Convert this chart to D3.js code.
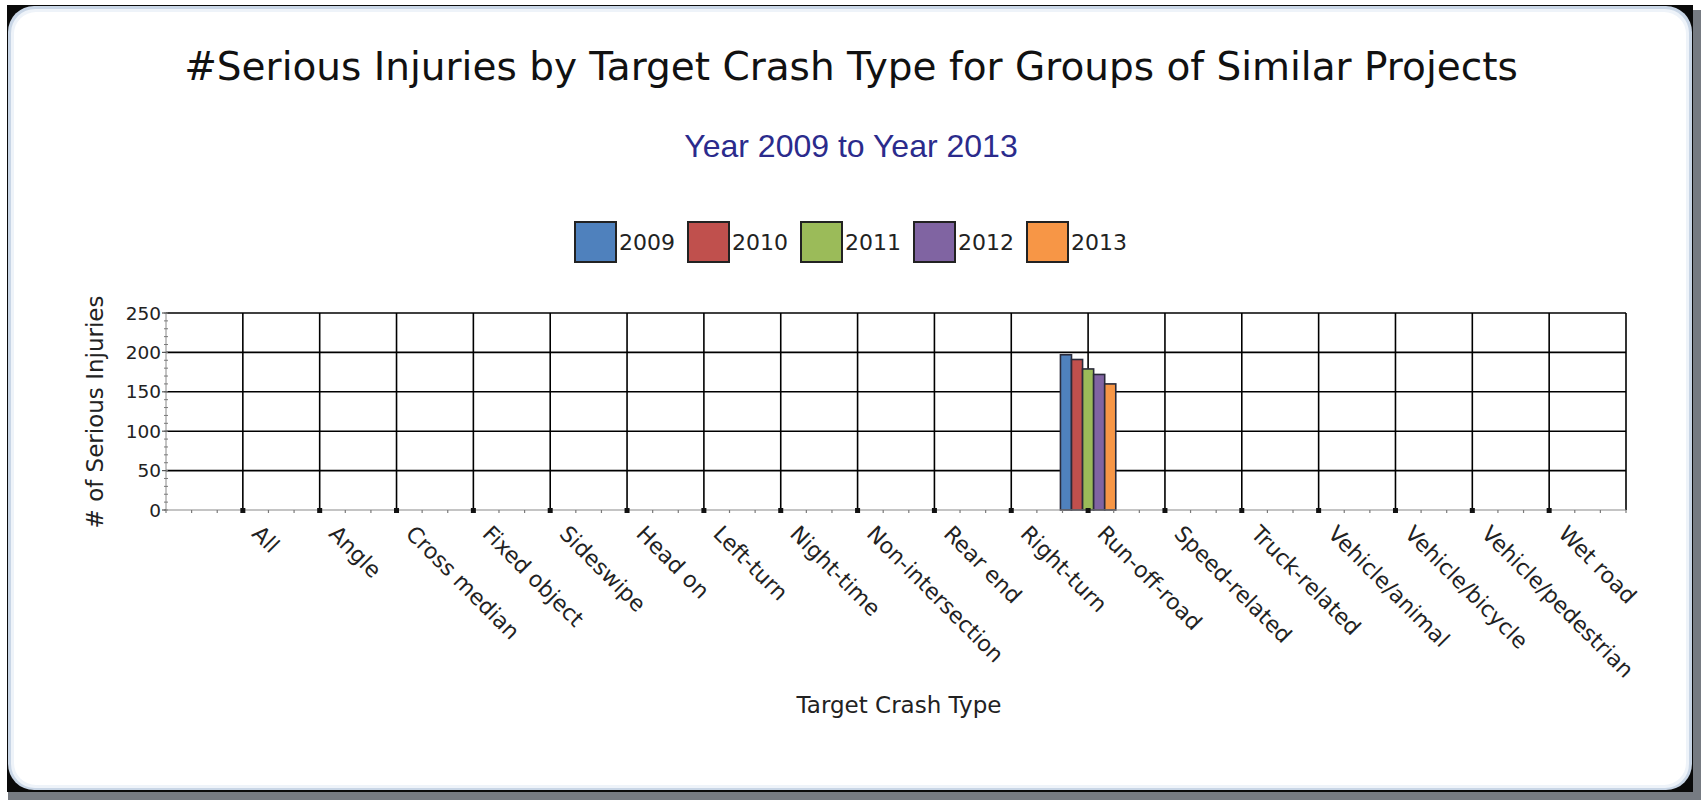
<!DOCTYPE html>
<html>
<head>
<meta charset="utf-8">
<script src="https://cdn.jsdelivr.net/npm/d3@7"></script>
<style>
  html, body { margin: 0; padding: 0; background: #ffffff; }
  svg { display: block; }
</style>
</head>
<body>
<svg id="chart" width="1701" height="800"></svg>
<script>
// Crash-type categories along the x axis
const categories = ["All", "Angle", "Cross median", "Fixed object", "Sideswipe", "Head on",
  "Left-turn", "Night-time", "Non-intersection", "Rear end", "Right-turn", "Run-off-road",
  "Speed-related", "Truck-related", "Vehicle/animal", "Vehicle/bicycle", "Vehicle/pedestrian", "Wet road"];

// Serious injuries per year (null = no data for that crash type)
const years = ["2009", "2010", "2011", "2012", "2013"];
const values2009 = [null, null, null, null, null, null, null, null, null, null, null, 197, null, null, null, null, null, null];
const values2010 = [null, null, null, null, null, null, null, null, null, null, null, 191, null, null, null, null, null, null];
const values2011 = [null, null, null, null, null, null, null, null, null, null, null, 179, null, null, null, null, null, null];
const values2012 = [null, null, null, null, null, null, null, null, null, null, null, 172, null, null, null, null, null, null];
const values2013 = [null, null, null, null, null, null, null, null, null, null, null, 160, null, null, null, null, null, null];
const seriesValues = [values2009, values2010, values2011, values2012, values2013];
const seriesColors = ["#4f81bd", "#c0504d", "#9bbb59", "#8064a2", "#f79646"];

const yTicks = [0, 50, 100, 150, 200, 250];

const titleText = "#Serious Injuries by Target Crash Type for Groups of Similar Projects";
const subtitleText = "Year 2009 to Year 2013";
const xTitle = "Target Crash Type";
const yTitle = "# of Serious Injuries";

const svg = d3.select("#chart");
const W = 1701, H = 800;
const FONT = "DejaVu Sans, Verdana, sans-serif";

// ---- panel frame ----
svg.append("rect").attr("x", 0).attr("y", 0).attr("width", W).attr("height", H).attr("fill", "#ffffff");
// shadow on right and bottom
svg.append("rect").attr("x", 8).attr("y", 10).attr("width", W - 8).attr("height", H - 10).attr("fill", "#767b82");
// dark corners behind the rounded panel
svg.append("rect").attr("x", 7).attr("y", 5).attr("width", 1686).attr("height", 787).attr("fill", "#0a0a0a");
svg.append("rect").attr("x", 8).attr("y", 6).attr("width", 1684).attr("height", 784)
  .attr("rx", 26).attr("ry", 26).attr("fill", "#c9d6e6");
svg.append("rect").attr("x", 11).attr("y", 9).attr("width", 1678).attr("height", 779)
  .attr("rx", 24).attr("ry", 24).attr("fill", "#eef3f9");
svg.append("rect").attr("x", 14).attr("y", 12).attr("width", 1672).attr("height", 773)
  .attr("rx", 22).attr("ry", 22).attr("fill", "#ffffff");

// ---- titles ----
svg.append("text")
  .attr("x", 851).attr("y", 80)
  .attr("text-anchor", "middle")
  .attr("font-family", FONT)
  .attr("font-size", 39)
  .attr("fill", "#111111")
  .text(titleText);

svg.append("text")
  .attr("x", 851).attr("y", 157)
  .attr("text-anchor", "middle")
  .attr("font-family", "Liberation Sans, Arial, sans-serif")
  .attr("font-size", 32)
  .attr("fill", "#2b2b8c")
  .text(subtitleText);

// ---- legend ----
const legend = svg.append("g").attr("transform", "translate(575,222)");
years.forEach((yr, i) => {
  const g = legend.append("g").attr("transform", `translate(${i * 113},0)`);
  g.append("rect").attr("x", 0).attr("y", 0).attr("width", 41).attr("height", 40)
    .attr("fill", seriesColors[i]).attr("stroke", "#222222").attr("stroke-width", 2);
  g.append("text").attr("x", 44).attr("y", 28)
    .attr("font-family", FONT)
    .attr("font-size", 22).attr("fill", "#222222").text(yr);
});

// ---- scales ----
const plot = { left: 166, right: 1626, top: 313, bottom: 510 };
const x = d3.scaleLinear().domain([0, categories.length + 1]).range([plot.left, plot.right]);
const y = d3.scaleLinear().domain([0, 250]).range([plot.bottom, plot.top]);
const unit = x(1) - x(0);
const barBand = d3.scaleBand().domain(years).range([-0.36 * unit, 0.36 * unit]).paddingInner(0);

const g = svg.append("g");

// horizontal grid lines
g.selectAll(".hgrid").data(yTicks.filter(d => d > 0)).join("line")
  .attr("x1", plot.left).attr("x2", plot.right)
  .attr("y1", d => y(d)).attr("y2", d => y(d))
  .attr("stroke", "#000000").attr("stroke-width", 1.6);

// vertical grid lines at each category
g.selectAll(".vgrid").data(categories).join("line")
  .attr("x1", (d, i) => x(i + 1)).attr("x2", (d, i) => x(i + 1))
  .attr("y1", plot.top).attr("y2", plot.bottom)
  .attr("stroke", "#000000").attr("stroke-width", 1.6);

// right border
g.append("line").attr("x1", plot.right).attr("x2", plot.right)
  .attr("y1", plot.top).attr("y2", plot.bottom)
  .attr("stroke", "#000000").attr("stroke-width", 1.6);

// bars
years.forEach((yr, s) => {
  const vals = seriesValues[s];
  g.selectAll(null).data(vals.map((v, i) => ({ v, i })).filter(d => d.v != null)).join("rect")
    .attr("x", d => x(d.i + 1) + barBand(yr))
    .attr("y", d => y(d.v))
    .attr("width", barBand.bandwidth())
    .attr("height", d => y(0) - y(d.v))
    .attr("fill", seriesColors[s])
    .attr("stroke", "#2a2a3a").attr("stroke-width", 1.6);
});

// y axis
const yAxisG = g.append("g").attr("transform", `translate(${plot.left},0)`);
yAxisG.append("line").attr("x1", 0).attr("x2", 0).attr("y1", plot.top).attr("y2", plot.bottom)
  .attr("stroke", "#8a8a8a").attr("stroke-width", 1);
yAxisG.selectAll(".ymin").data(d3.range(0, 251, 10)).join("line")
  .attr("x1", -2).attr("x2", 2).attr("y1", d => y(d)).attr("y2", d => y(d))
  .attr("stroke", "#7a7a7a").attr("stroke-width", 1);
yAxisG.selectAll(".ymaj").data(yTicks).join("line")
  .attr("x1", -4).attr("x2", 0).attr("y1", d => y(d)).attr("y2", d => y(d))
  .attr("stroke", "#555555").attr("stroke-width", 1.2);
yAxisG.selectAll(".ylab").data(yTicks).join("text")
  .attr("x", -5).attr("y", d => y(d)).attr("dy", "0.36em")
  .attr("text-anchor", "end")
  .attr("font-family", FONT)
  .attr("font-size", 18.5).attr("fill", "#222222")
  .text(d => d);

// x axis
const xAxisG = g.append("g").attr("transform", `translate(0,${plot.bottom})`);
xAxisG.append("line").attr("x1", plot.left).attr("x2", plot.right).attr("y1", 0).attr("y2", 0)
  .attr("stroke", "#8a8a8a").attr("stroke-width", 1.2);
xAxisG.selectAll(".xmin").data(d3.range(0, (categories.length + 1) * 3 + 1).map(k => k / 3)).join("line")
  .attr("x1", d => x(d)).attr("x2", d => x(d)).attr("y1", 0).attr("y2", 3)
  .attr("stroke", "#7a7a7a").attr("stroke-width", 1.2);
xAxisG.selectAll(".xmaj").data(categories).join("rect")
  .attr("x", (d, i) => x(i + 1) - 2.5).attr("y", -2).attr("width", 5).attr("height", 5)
  .attr("fill", "#111111");
xAxisG.selectAll(".xlab").data(categories).join("text")
  .attr("transform", (d, i) => `translate(${x(i + 1) + 8},${25}) rotate(45)`)
  .attr("text-anchor", "start")
  .attr("font-family", FONT)
  .attr("font-size", 22).attr("fill", "#222222")
  .text(d => d);

// axis titles
svg.append("text")
  .attr("x", 899).attr("y", 713)
  .attr("text-anchor", "middle")
  .attr("font-family", FONT)
  .attr("font-size", 23).attr("fill", "#222222")
  .text(xTitle);

svg.append("text")
  .attr("transform", `translate(103,412) rotate(-90)`)
  .attr("text-anchor", "middle")
  .attr("font-family", FONT)
  .attr("font-size", 23).attr("fill", "#222222")
  .text(yTitle);
</script>
</body>
</html>
